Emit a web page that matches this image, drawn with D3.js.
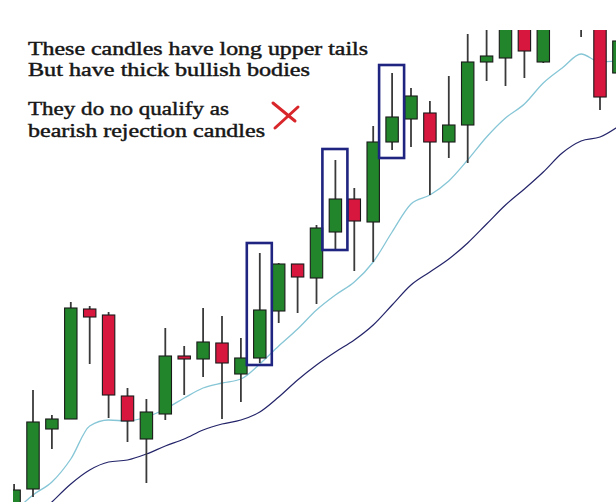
<!DOCTYPE html>
<html>
<head>
<meta charset="utf-8">
<script src="https://cdn.jsdelivr.net/npm/d3@7"></script>
<style>
  html, body { margin: 0; padding: 0; background: #ffffff; }
  svg { display: block; }
</style>
</head>
<body>
<script>
// ---- data ----
const categories = d3.range(1, 34).map(d => "C" + d);
const open  = [1.3008,1.3031,1.3091,1.3101,1.3211,1.3205,1.3124,1.3081,1.3106,1.3164,1.3161,1.3177,1.3146,1.3162,1.3209,1.3256,1.3242,1.3288,1.3321,1.3298,1.3378,1.3401,1.3407,1.3378,1.3395,1.3458,1.3462,1.3510,1.3458,1.3510,1.3520,1.3510,1.3447];
const high  = [1.3036,1.3130,1.3105,1.3218,1.3214,1.3208,1.3132,1.3121,1.3192,1.3174,1.3212,1.3204,1.3182,1.3267,1.3257,1.3256,1.3295,1.3360,1.3332,1.3394,1.3447,1.3432,1.3419,1.3444,1.3486,1.3510,1.3520,1.3520,1.3530,1.3540,1.3530,1.3520,1.3495];
const low   = [1.3002,1.3023,1.3071,1.3101,1.3156,1.3102,1.3078,1.3037,1.3100,1.3125,1.3143,1.3101,1.3118,1.3157,1.3197,1.3207,1.3216,1.3271,1.3249,1.3258,1.3370,1.3373,1.3325,1.3362,1.3357,1.3439,1.3434,1.3442,1.3457,1.3500,1.3483,1.3410,1.3435];
const close = [1.3030,1.3098,1.3101,1.3212,1.3203,1.3125,1.3099,1.3108,1.3164,1.3161,1.3178,1.3157,1.3162,1.3210,1.3256,1.3243,1.3292,1.3321,1.3299,1.3378,1.3403,1.3424,1.3378,1.3395,1.3458,1.3464,1.3510,1.3469,1.3515,1.3530,1.3495,1.3423,1.3479];
const maFast = [1.3008,1.3025,1.3038,1.3061,1.3094,1.3100,1.3099,1.3103,1.3111,1.3122,1.3132,1.3137,1.3141,1.3156,1.3174,1.3191,1.3210,1.3225,1.3238,1.3258,1.3288,1.3316,1.3325,1.3339,1.3360,1.3383,1.3402,1.3416,1.3437,1.3452,1.3466,1.3458,1.3459];
const maSlow = [1.2982,1.3000,1.3018,1.3036,1.3050,1.3058,1.3060,1.3066,1.3074,1.3081,1.3090,1.3096,1.3100,1.3108,1.3123,1.3140,1.3155,1.3168,1.3180,1.3195,1.3215,1.3235,1.3248,1.3261,1.3277,1.3296,1.3315,1.3331,1.3348,1.3367,1.3379,1.3383,1.3394];
const boxIndex  = [13, 17, 20];
const boxTop    = [1.3277, 1.3371, 1.3455];
const boxBottom = [1.3155, 1.3270, 1.3362];
const noteLines = [
  "These candles have long upper tails",
  "But have thick bullish bodies",
  "They do no qualify as",
  "bearish rejection candles"
];

// ---- layout ----
const W = 616, H = 502;
const svg = d3.select("body").append("svg").attr("width", W).attr("height", H);
svg.append("rect").attr("width", W).attr("height", H).attr("fill", "#ffffff");

const x = d3.scalePoint().domain(categories).range([14.1, 618.9]);
const y = d3.scaleLinear().domain([1.30, 1.35]).range([520, 20]);

svg.append("defs").append("clipPath").attr("id", "plot")
  .append("rect").attr("x", 13).attr("y", 30).attr("width", W - 13).attr("height", H - 30);

const g = svg.append("g").attr("clip-path", "url(#plot)");

const candles = categories.map((c, i) => ({c, o: open[i], h: high[i], l: low[i], cl: close[i]}));

// moving averages
const line = d3.line().x((d, i) => x(categories[i])).y(d => y(d)).curve(d3.curveMonotoneX);
g.append("path").datum(maSlow).attr("d", line)
  .attr("fill", "none").attr("stroke", "#24246a").attr("stroke-width", 1.2);
g.append("path").datum(maFast).attr("d", line)
  .attr("fill", "none").attr("stroke", "#86c6d6").attr("stroke-width", 1.3);

// wicks
g.selectAll("line.wick").data(candles).join("line").attr("class", "wick")
  .attr("x1", d => x(d.c)).attr("x2", d => x(d.c))
  .attr("y1", d => y(d.h)).attr("y2", d => y(d.l))
  .attr("stroke", "#3a3a3a").attr("stroke-width", 1.8);

// bodies
const bw = 12.4;
g.selectAll("rect.body").data(candles).join("rect").attr("class", "body")
  .attr("x", d => x(d.c) - bw / 2)
  .attr("y", d => y(Math.max(d.o, d.cl)))
  .attr("width", bw)
  .attr("height", d => Math.max(2, Math.abs(y(d.o) - y(d.cl))))
  .attr("fill", d => d.cl >= d.o ? "#22852b" : "#d8173f")
  .attr("stroke", "#1a1a1a").attr("stroke-width", 1.1);

// highlight boxes
g.selectAll("rect.box").data(boxIndex).join("rect").attr("class", "box")
  .attr("x", (d) => x(categories[d]) - 13)
  .attr("width", 25)
  .attr("y", (d, i) => y(boxTop[i]))
  .attr("height", (d, i) => y(boxBottom[i]) - y(boxTop[i]))
  .attr("fill", "none").attr("stroke", "#1e2480").attr("stroke-width", 2.6);

// annotation text
const baselines = [54.5, 76.2, 115, 137];
const widths = [340, 282, 201, 237];
svg.selectAll("text.note").data(noteLines).join("text").attr("class", "note")
  .attr("x", 28).attr("y", (d, i) => baselines[i])
  .attr("font-family", "'Liberation Serif', 'DejaVu Serif', serif")
  .attr("font-size", 19)
  .attr("fill", "#161616")
  .attr("stroke", "#161616").attr("stroke-width", 0.45)
  .attr("textLength", (d, i) => widths[i])
  .attr("lengthAdjust", "spacingAndGlyphs")
  .text(d => d);

// red cross
svg.append("path").attr("d", "M273,103 L295,121").attr("stroke", "#d8262a").attr("stroke-width", 3).attr("stroke-linecap", "round");
svg.append("path").attr("d", "M275,128 L298,107").attr("stroke", "#d8262a").attr("stroke-width", 3).attr("stroke-linecap", "round");
</script>
</body>
</html>
